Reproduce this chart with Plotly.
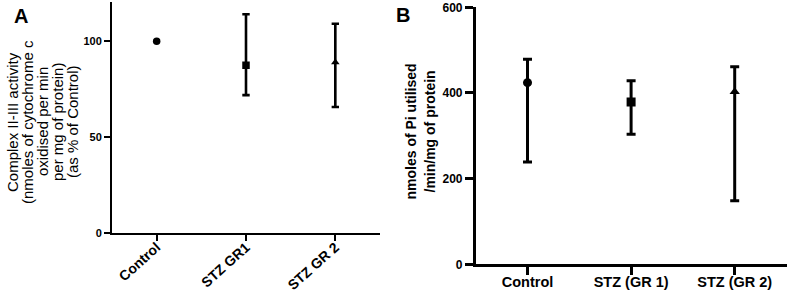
import plotly.graph_objects as go

# Panel A data
groups_a = ["Control", "STZ GR1", "STZ GR 2"]
mean_a = [100, 87.5, 89]
upper_a = [None, 114.1, 109.2]
lower_a = [None, 71.9, 65.7]
yticks_a = [0, 50, 100]
title_a = ["Complex II-III activity", "(nmoles of cytochrome c", "oxidised per min",
           "per mg of protein)", "(as % of Control)"]

# Panel B data
groups_b = ["Control", "STZ (GR 1)", "STZ (GR 2)"]
mean_b = [424, 379, 403]
upper_b = [478.5, 428.7, 461.4]
lower_b = [238.8, 303.4, 148.6]
yticks_b = [0, 200, 400, 600]
title_b = ["nmoles of Pi utilised", "/min/mg of protein"]

symbols = ["circle", "square", "triangle-up"]
FONT = "Liberation Sans, Arial, sans-serif"
W, H = 790, 292

fig = go.Figure()

for i, g in enumerate(groups_a):
    err = None
    if upper_a[i] is not None:
        err = dict(type="data", symmetric=False,
                   array=[upper_a[i] - mean_a[i]], arrayminus=[mean_a[i] - lower_a[i]],
                   color="black", thickness=2.6, width=3.7)
    fig.add_trace(go.Scatter(x=[g], y=[mean_a[i]], mode="markers",
                             marker=dict(symbol=symbols[i], size=7.5, color="black"),
                             error_y=err if err else dict(visible=False),
                             xaxis="x", yaxis="y", showlegend=False))

for i, g in enumerate(groups_b):
    fig.add_trace(go.Scatter(x=[g], y=[mean_b[i]], mode="markers",
                             marker=dict(symbol=symbols[i], size=9, color="black"),
                             error_y=dict(type="data", symmetric=False,
                                          array=[upper_b[i] - mean_b[i]],
                                          arrayminus=[mean_b[i] - lower_b[i]],
                                          color="black", thickness=3, width=4.5),
                             xaxis="x2", yaxis="y2", showlegend=False))

axcommon = dict(showline=True, linecolor="black", ticks="outside", tickcolor="black",
                showgrid=False, zeroline=False, mirror=False, automargin=False)

fig.update_layout(
    width=W, height=H, autosize=False,
    margin=dict(l=0, r=0, t=0, b=0, pad=0),
    paper_bgcolor="white", plot_bgcolor="white",
    font=dict(family=FONT, color="black"),
    xaxis=dict(domain=[112 / W, 380 / W], range=[-0.5, 2.5], type="category",
               categoryorder="array", categoryarray=groups_a,
               linewidth=2, ticklen=6, tickwidth=2, tickangle=-42, ticklabelstandoff=-7,
               tickfont=dict(size=14, family=FONT, weight="bold"), anchor="y", **axcommon),
    yaxis=dict(domain=[(H - 232.7) / H, (H - 1.5) / H], range=[0, 120.8],
               tickvals=yticks_a, linewidth=2, ticklen=6, tickwidth=2,
               tickfont=dict(size=11, family=FONT, weight="bold"), anchor="x", **axcommon),
    xaxis2=dict(domain=[475.7 / W, 786.5 / W], range=[-0.5, 2.5], type="category",
                categoryorder="array", categoryarray=groups_b,
                linewidth=2.5, ticklen=8, tickwidth=2.5, ticklabelstandoff=-5,
                tickfont=dict(size=14.5, family=FONT, weight="bold"), anchor="y2", **axcommon),
    yaxis2=dict(domain=[(H - 264.3) / H, (H - 7.3) / H], range=[0, 600],
                tickvals=yticks_b, linewidth=2.5, ticklen=8, tickwidth=2.5,
                tickfont=dict(size=12, family=FONT, weight="bold"), anchor="x2", **axcommon),
)

annots = []
# Panel letters
annots.append(dict(text="<b>A</b>", x=21 / W, y=(H - 16) / H, xref="paper", yref="paper",
                   showarrow=False, font=dict(size=20, family=FONT), xanchor="center", yanchor="middle"))
annots.append(dict(text="<b>B</b>", x=402.5 / W, y=(H - 14.5) / H, xref="paper", yref="paper",
                   showarrow=False, font=dict(size=20, family=FONT), xanchor="center", yanchor="middle"))
# Panel A y title lines
for k, line in enumerate(title_a):
    annots.append(dict(text=line, x=(12 + 15 * k) / W, y=(H - 122) / H, xref="paper", yref="paper",
                       showarrow=False, textangle=-90, font=dict(size=15, family=FONT),
                       xanchor="center", yanchor="middle"))
# Panel B y title lines
for k, line in enumerate(title_b):
    annots.append(dict(text="<b>" + line + "</b>", x=(410 + 19 * k) / W, y=(H - 131.5) / H,
                       xref="paper", yref="paper", showarrow=False, textangle=-90,
                       font=dict(size=14, family=FONT), xanchor="center", yanchor="middle"))
fig.update_layout(annotations=annots)

fig.write_html("out.html", config={"displayModeBar": False},
               post_script="document.body.style.margin='0';")
